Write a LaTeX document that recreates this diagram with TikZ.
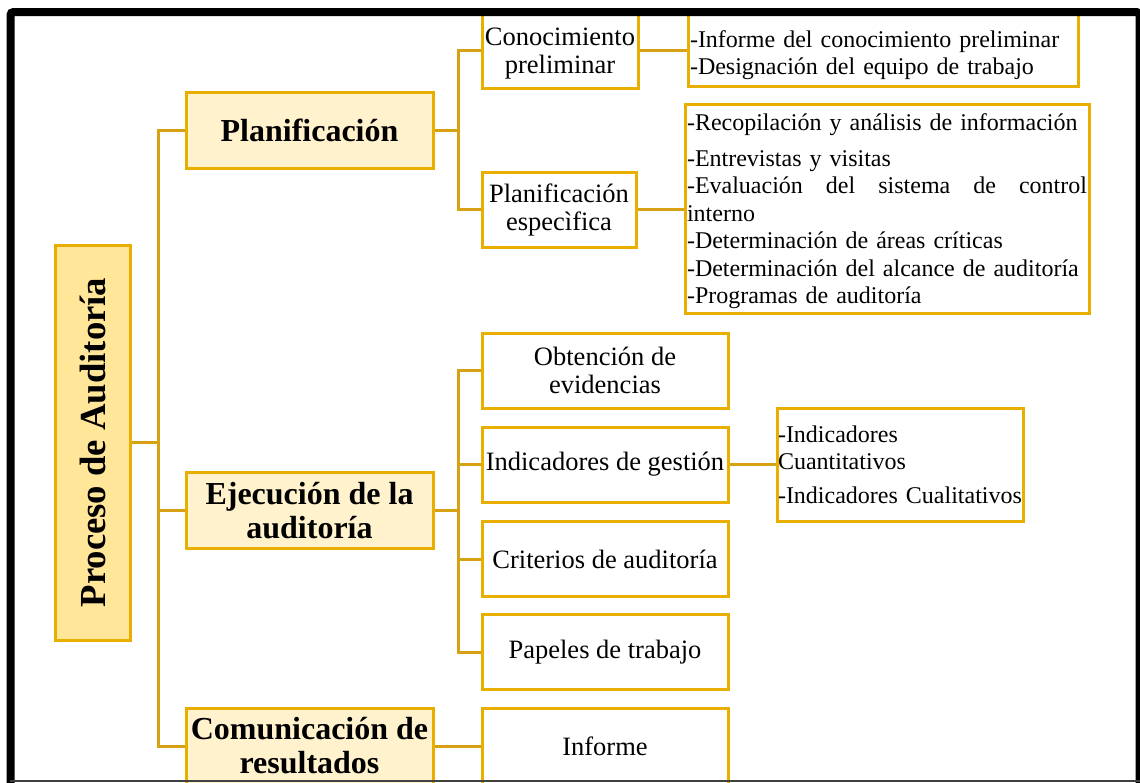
\documentclass[tikz,border=0pt]{standalone}
\usepackage{fontspec}
\setmainfont{Liberation Serif}
\usetikzlibrary{backgrounds}
\definecolor{gold}{RGB}{232,174,0}
\definecolor{goldline}{RGB}{214,162,20}
\definecolor{lightfill}{RGB}{255,242,204}
\definecolor{rootfill}{RGB}{255,230,153}
\hyphenpenalty=10000
\exhyphenpenalty=10000
\begin{document}
\begin{tikzpicture}[x=1pt,y=-1pt,
 box/.style={draw=gold, line width=3pt, rectangle, inner sep=0pt, align=center},
 lvlone/.style={box, fill=lightfill, minimum width=247pt, minimum height=76pt, font=\fontsize{32}{34}\selectfont\bfseries},
 sub/.style={box, fill=white, minimum width=246pt, minimum height=75pt, font=\fontsize{26.5}{28}\selectfont},
 info/.style={box, fill=white, inner xsep=2pt, align=left, font=\fontsize{24}{27.5}\selectfont},
 conn/.style={draw=goldline, line width=3pt},
 frame/.style={draw=black, line width=8pt}
]
\useasboundingbox (0,0) rectangle (1140,782);
\clip (0,0) rectangle (1140,782);

% root
\node[box, fill=rootfill, rotate=90, minimum width=395pt, minimum height=75pt,
      font=\fontsize{36.7}{40}\selectfont\bfseries] (root) at (92.5,442.5) {Proceso de Auditoría};

% level one
\node[lvlone] (plan) at (309.5,130) {Planificación};
\node[lvlone] (ejec) at (309.5,510.5) {Ejecución de la\\auditoría};
\node[lvlone] (comu) at (309.5,746) {Comunicación de\\resultados};

% planning children
\node[sub, minimum width=156pt, minimum height=76pt] (conoc) at (560,50) {\rule{0pt}{24pt}Conocimiento\\preliminar};
\node[sub, minimum width=154pt, minimum height=75pt] (pesp) at (559,209.5) {Planificación\\especìfica};

\node[info, text width=386pt, minimum height=74pt] (info1) at (883,49)
  {\rule{0pt}{29pt}-Informe del conocimiento preliminar\\-Designación del equipo de trabajo};
\node[info, text width=400pt, minimum height=209pt] (info2) at (887,208.5)
  {\rule{0pt}{23pt}-Recopilación y análisis de información\\[8pt]-Entrevistas y visitas\\-Evaluación\hfill del\hfill sistema\hfill de\hfill control\\interno\\-Determinación de áreas críticas\\-Determinación del alcance de auditoría\\-Programas de auditoría};

% execution children
\node[sub] (obt) at (605,370.5) {Obtención de\\evidencias};
\node[sub] (ind) at (605,464.5) {Indicadores de gestión};
\node[sub] (crit) at (605,559) {Criterios de auditoría};
\node[sub] (pap) at (605,652) {Papeles de trabajo};
\node[info, inner xsep=1pt, text width=244pt, minimum height=113pt] (indbox) at (900,464.5)
  {-Indicadores\\Cuantitativos\\[6pt]-Indicadores~Cualitativos};

% communication child
\node[sub, minimum height=76pt] (inf) at (605,746) {Informe};

\coordinate (t0) at (158,442.5);
\coordinate (t1) at (458,130);
\coordinate (t2) at (458,510.5);

\begin{scope}[on background layer]
\draw[conn] (root.south) -- (t0);
\draw[conn] (t0) |- (plan.west);
\draw[conn] (t0) |- (ejec.west);
\draw[conn] (t0) |- (comu.west);
\draw[conn] (plan.east) -- (t1);
\draw[conn] (t1) |- (conoc.west);
\draw[conn] (t1) |- (pesp.west);
\draw[conn] (conoc.east) -- (conoc.east -| info1.west);
\draw[conn] (pesp.east) -- (pesp.east -| info2.west);
\draw[conn] (ejec.east) -- (t2);
\draw[conn] (t2) |- (obt.west);
\draw[conn] (t2) |- (ind.west);
\draw[conn] (t2) |- (crit.west);
\draw[conn] (t2) |- (pap.west);
\draw[conn] (ind.east) -- (indbox.west);
\draw[conn] (comu.east) -- (inf.west);
\end{scope}

% outer frame
\draw[frame, rounded corners=3pt] (10.5,800) -- (10.5,12) -- (1139.5,12) -- (1139.5,800);
\draw[line width=1.5pt, black!75] (10,781) -- (1140,781);
\end{tikzpicture}
\end{document}
